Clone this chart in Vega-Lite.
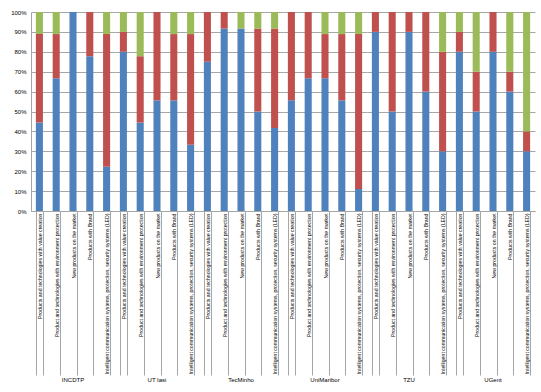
{
  "$schema": "https://vega.github.io/schema/vega-lite/v6.json",
  "padding": {"left": 10, "top": 9, "right": 4, "bottom": 2},
  "background": "white",
  "config": {
    "font": "Liberation Sans",
    "view": {"stroke": null}
  },
  "data": {
    "values": [
      {"group": "INCDTP", "category": "Products and technologies with value creation", "series": "Series1", "value": 44.4},
      {"group": "INCDTP", "category": "Products and technologies with value creation", "series": "Series2", "value": 44.4},
      {"group": "INCDTP", "category": "Products and technologies with value creation", "series": "Series3", "value": 11.1},
      {"group": "INCDTP", "category": "Product and technologies with environment protection", "series": "Series1", "value": 66.7},
      {"group": "INCDTP", "category": "Product and technologies with environment protection", "series": "Series2", "value": 22.2},
      {"group": "INCDTP", "category": "Product and technologies with environment protection", "series": "Series3", "value": 11.1},
      {"group": "INCDTP", "category": "New products on the market", "series": "Series1", "value": 100},
      {"group": "INCDTP", "category": "Products with Brand", "series": "Series1", "value": 77.8},
      {"group": "INCDTP", "category": "Products with Brand", "series": "Series2", "value": 22.2},
      {"group": "INCDTP", "category": "Intelligent communication systems, protection, security systems (LED)", "series": "Series1", "value": 22.2},
      {"group": "INCDTP", "category": "Intelligent communication systems, protection, security systems (LED)", "series": "Series2", "value": 66.7},
      {"group": "INCDTP", "category": "Intelligent communication systems, protection, security systems (LED)", "series": "Series3", "value": 11.1},

      {"group": "UT Iasi", "category": "Products and technologies with value creation", "series": "Series1", "value": 80},
      {"group": "UT Iasi", "category": "Products and technologies with value creation", "series": "Series2", "value": 10},
      {"group": "UT Iasi", "category": "Products and technologies with value creation", "series": "Series3", "value": 10},
      {"group": "UT Iasi", "category": "Product and technologies with environment protection", "series": "Series1", "value": 44.4},
      {"group": "UT Iasi", "category": "Product and technologies with environment protection", "series": "Series2", "value": 33.3},
      {"group": "UT Iasi", "category": "Product and technologies with environment protection", "series": "Series3", "value": 22.2},
      {"group": "UT Iasi", "category": "New products on the market", "series": "Series1", "value": 55.6},
      {"group": "UT Iasi", "category": "New products on the market", "series": "Series2", "value": 44.4},
      {"group": "UT Iasi", "category": "Products with Brand", "series": "Series1", "value": 55.6},
      {"group": "UT Iasi", "category": "Products with Brand", "series": "Series2", "value": 33.3},
      {"group": "UT Iasi", "category": "Products with Brand", "series": "Series3", "value": 11.1},
      {"group": "UT Iasi", "category": "Intelligent communication systems, protection, security systems (LED)", "series": "Series1", "value": 33.3},
      {"group": "UT Iasi", "category": "Intelligent communication systems, protection, security systems (LED)", "series": "Series2", "value": 55.6},
      {"group": "UT Iasi", "category": "Intelligent communication systems, protection, security systems (LED)", "series": "Series3", "value": 11.1},

      {"group": "TecMinho", "category": "Products and technologies with value creation", "series": "Series1", "value": 75},
      {"group": "TecMinho", "category": "Products and technologies with value creation", "series": "Series2", "value": 25},
      {"group": "TecMinho", "category": "Product and technologies with environment protection", "series": "Series1", "value": 91.7},
      {"group": "TecMinho", "category": "Product and technologies with environment protection", "series": "Series2", "value": 8.3},
      {"group": "TecMinho", "category": "New products on the market", "series": "Series1", "value": 91.7},
      {"group": "TecMinho", "category": "New products on the market", "series": "Series3", "value": 8.3},
      {"group": "TecMinho", "category": "Products with Brand", "series": "Series1", "value": 50},
      {"group": "TecMinho", "category": "Products with Brand", "series": "Series2", "value": 41.7},
      {"group": "TecMinho", "category": "Products with Brand", "series": "Series3", "value": 8.3},
      {"group": "TecMinho", "category": "Intelligent communication systems, protection, security systems (LED)", "series": "Series1", "value": 41.7},
      {"group": "TecMinho", "category": "Intelligent communication systems, protection, security systems (LED)", "series": "Series2", "value": 50},
      {"group": "TecMinho", "category": "Intelligent communication systems, protection, security systems (LED)", "series": "Series3", "value": 8.3},

      {"group": "UniMaribor", "category": "Products and technologies with value creation", "series": "Series1", "value": 55.6},
      {"group": "UniMaribor", "category": "Products and technologies with value creation", "series": "Series2", "value": 44.4},
      {"group": "UniMaribor", "category": "Product and technologies with environment protection", "series": "Series1", "value": 66.7},
      {"group": "UniMaribor", "category": "Product and technologies with environment protection", "series": "Series2", "value": 33.3},
      {"group": "UniMaribor", "category": "New products on the market", "series": "Series1", "value": 66.7},
      {"group": "UniMaribor", "category": "New products on the market", "series": "Series2", "value": 22.2},
      {"group": "UniMaribor", "category": "New products on the market", "series": "Series3", "value": 11.1},
      {"group": "UniMaribor", "category": "Products with Brand", "series": "Series1", "value": 55.6},
      {"group": "UniMaribor", "category": "Products with Brand", "series": "Series2", "value": 33.3},
      {"group": "UniMaribor", "category": "Products with Brand", "series": "Series3", "value": 11.1},
      {"group": "UniMaribor", "category": "Intelligent communication systems, protection, security systems (LED)", "series": "Series1", "value": 11.1},
      {"group": "UniMaribor", "category": "Intelligent communication systems, protection, security systems (LED)", "series": "Series2", "value": 77.8},
      {"group": "UniMaribor", "category": "Intelligent communication systems, protection, security systems (LED)", "series": "Series3", "value": 11.1},

      {"group": "TZU", "category": "Products and technologies with value creation", "series": "Series1", "value": 90},
      {"group": "TZU", "category": "Products and technologies with value creation", "series": "Series2", "value": 10},
      {"group": "TZU", "category": "Product and technologies with environment protection", "series": "Series1", "value": 50},
      {"group": "TZU", "category": "Product and technologies with environment protection", "series": "Series2", "value": 50},
      {"group": "TZU", "category": "New products on the market", "series": "Series1", "value": 90},
      {"group": "TZU", "category": "New products on the market", "series": "Series2", "value": 10},
      {"group": "TZU", "category": "Products with Brand", "series": "Series1", "value": 60},
      {"group": "TZU", "category": "Products with Brand", "series": "Series2", "value": 40},
      {"group": "TZU", "category": "Intelligent communication systems, protection, security systems (LED)", "series": "Series1", "value": 30},
      {"group": "TZU", "category": "Intelligent communication systems, protection, security systems (LED)", "series": "Series2", "value": 50},
      {"group": "TZU", "category": "Intelligent communication systems, protection, security systems (LED)", "series": "Series3", "value": 20},

      {"group": "UGent", "category": "Products and technologies with value creation", "series": "Series1", "value": 80},
      {"group": "UGent", "category": "Products and technologies with value creation", "series": "Series2", "value": 10},
      {"group": "UGent", "category": "Products and technologies with value creation", "series": "Series3", "value": 10},
      {"group": "UGent", "category": "Product and technologies with environment protection", "series": "Series1", "value": 50},
      {"group": "UGent", "category": "Product and technologies with environment protection", "series": "Series2", "value": 20},
      {"group": "UGent", "category": "Product and technologies with environment protection", "series": "Series3", "value": 30},
      {"group": "UGent", "category": "New products on the market", "series": "Series1", "value": 80},
      {"group": "UGent", "category": "New products on the market", "series": "Series2", "value": 20},
      {"group": "UGent", "category": "Products with Brand", "series": "Series1", "value": 60},
      {"group": "UGent", "category": "Products with Brand", "series": "Series2", "value": 10},
      {"group": "UGent", "category": "Products with Brand", "series": "Series3", "value": 30},
      {"group": "UGent", "category": "Intelligent communication systems, protection, security systems (LED)", "series": "Series1", "value": 30},
      {"group": "UGent", "category": "Intelligent communication systems, protection, security systems (LED)", "series": "Series2", "value": 10},
      {"group": "UGent", "category": "Intelligent communication systems, protection, security systems (LED)", "series": "Series3", "value": 60}
    ]
  },
  "spacing": 0,
  "facet": {
    "column": {
      "field": "group",
      "type": "nominal",
      "sort": ["INCDTP", "UT Iasi", "TecMinho", "UniMaribor", "TZU", "UGent"],
      "header": {"title": null, "labelOrient": "bottom", "labelFontSize": 6, "labelFontWeight": "normal", "labelColor": "#000000", "labelPadding": 1}
    }
  },
  "spec": {
    "width": 84,
    "height": 199,
    "mark": {"type": "bar"},
    "encoding": {
      "x": {
        "field": "category",
        "type": "nominal",
        "sort": ["Products and technologies with value creation", "Product and technologies with environment protection", "New products on the market", "Products with Brand", "Intelligent communication systems, protection, security systems (LED)"],
        "scale": {"paddingInner": 0.58, "paddingOuter": 0.29},
        "axis": {
          "title": null,
          "labelAngle": -90,
          "labelFontSize": 5.2,
          "labelColor": "#000000",
          "labelLimit": 0,
          "labelOverlap": false,
          "tickBand": "extent",
          "tickSize": 164,
          "tickColor": "#a6a6a6",
          "labelPadding": -162,
          "domainColor": "#a6a6a6"
        }
      },
      "y": {
        "field": "value",
        "type": "quantitative",
        "stack": "normalize",
        "scale": {"domain": [0, 1], "nice": false},
        "axis": {
          "title": null,
          "format": ".0%",
          "values": [0, 0.1, 0.2, 0.3, 0.4, 0.5, 0.6, 0.7, 0.8, 0.9, 1],
          "labelFontSize": 6,
          "labelColor": "#000000",
          "labelPadding": 5,
          "tickSize": 0,
          "grid": true,
          "gridColor": "#a6a6a6",
          "domainColor": "#a6a6a6"
        }
      },
      "color": {
        "field": "series",
        "type": "nominal",
        "scale": {"domain": ["Series1", "Series2", "Series3"], "range": ["#4F81BD", "#C0504D", "#9BBB59"]},
        "legend": null
      },
      "order": {"field": "series", "sort": "ascending"}
    }
  }
}
